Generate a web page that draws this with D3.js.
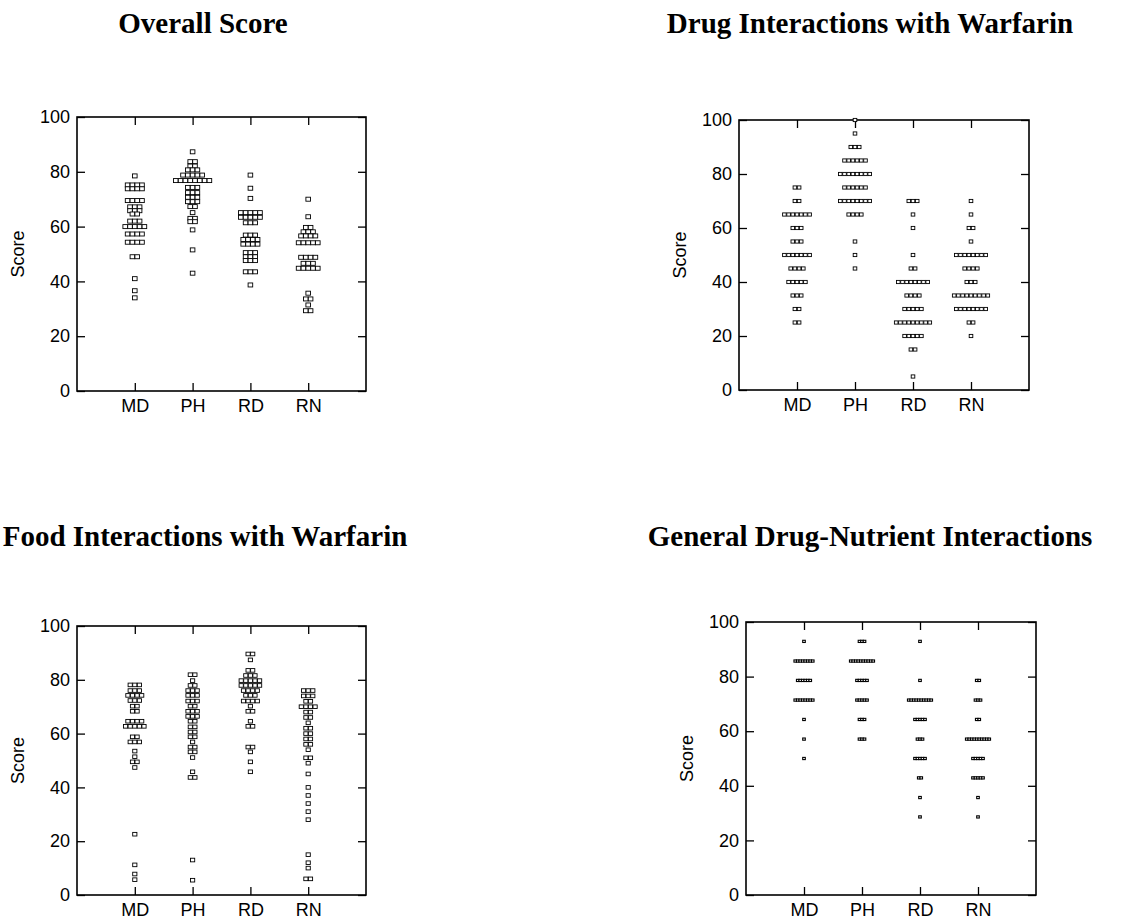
<!DOCTYPE html>
<html>
<head>
<meta charset="utf-8">
<script src="https://cdn.jsdelivr.net/npm/d3@7"></script>
<style>
body { margin: 0; background: #fff; }
svg { display: block; }
.axis text { font-family: "Liberation Sans", Arial, sans-serif; font-size: 18px; fill: #000; }
.axis line { stroke: #000; stroke-width: 1.3; }
.y-label { font-family: "Liberation Sans", Arial, sans-serif; font-size: 18px; }
.chart-title { font-family: "Liberation Serif", "Times New Roman", serif; font-weight: bold; font-size: 29px; }
</style>
</head>
<body>
<svg id="chart"></svg>
<script>
// groups on the x axis and y ticks shared by all four panels
const groups = ["MD", "PH", "RD", "RN"];
const yTicks = [0, 20, 40, 60, 80, 100];

// Overall Score
const overallMD = [78.5, 75.2, 75.2, 75.2, 75.2, 73.8, 73.8, 73.8, 73.8, 69.5, 69.5, 69.5, 69.5,
  67.2, 67.2, 67.2, 65.8, 65.8, 65.8, 64.6, 64.6, 62, 62, 62, 60, 60, 60, 60, 60,
  57.3, 57.3, 57.3, 57.3, 54.3, 54.3, 54.3, 54.3, 49, 49, 41, 36.6, 34];
const overallPH = [87.3, 83.7, 83.7, 82.1, 82.1, 80.7, 80.7, 80.7, 78.8, 78.8, 78.8, 78.8, 78.8,
  76.8, 76.8, 76.8, 76.8, 76.8, 76.8, 76.8, 76.8, 74.3, 74.3, 74.3, 72.4, 72.4, 72.4,
  70.7, 70.7, 70.7, 69.1, 69.1, 69.1, 67.3, 67.3, 65.1, 63, 63, 61.8, 61.8, 58.8, 51.5, 43];
const overallRD = [78.8, 74, 70.3, 65.1, 65.1, 65.1, 65.1, 65.1, 63.4, 63.4, 63.4, 63.4, 63.4,
  61.4, 61.4, 61.4, 56.9, 56.9, 56.9, 55.3, 55.3, 55.3, 55.3, 53.6, 53.6, 53.6, 53.6,
  50.5, 50.5, 50.5, 49, 49, 49, 47.6, 47.6, 47.6, 43.5, 43.5, 43.5, 38.7];
const overallRN = [70, 63.6, 59.7, 59.7, 58.1, 58.1, 58.1, 56.6, 56.6, 56.6, 56.6,
  54.1, 54.1, 54.1, 54.1, 54.1, 48.8, 48.8, 48.8, 48.8, 46.6, 46.6, 46.6,
  44.8, 44.8, 44.8, 44.8, 44.8, 35.7, 33.6, 33.6, 31.4, 29.3, 29.3];

// Drug Interactions with Warfarin
const drugMD = [75, 75, 70, 70, 65, 65, 65, 65, 65, 65, 65, 60, 60, 60, 55, 55, 55,
  50, 50, 50, 50, 50, 50, 50, 45, 45, 45, 45, 40, 40, 40, 40, 40, 35, 35, 35, 30, 30, 25, 25];
const drugPH = [100, 95, 90, 90, 90, 85, 85, 85, 85, 85, 85, 80, 80, 80, 80, 80, 80, 80, 80,
  75, 75, 75, 75, 75, 75, 70, 70, 70, 70, 70, 70, 70, 70, 65, 65, 65, 65, 55, 50, 45];
const drugRD = [70, 70, 70, 65, 60, 50, 45, 45, 40, 40, 40, 40, 40, 40, 40, 40, 35, 35, 35, 35,
  30, 30, 30, 30, 30, 25, 25, 25, 25, 25, 25, 25, 25, 25, 20, 20, 20, 20, 20, 15, 15, 5];
const drugRN = [70, 65, 60, 60, 55, 50, 50, 50, 50, 50, 50, 50, 50, 45, 45, 45, 45, 40, 40, 40,
  35, 35, 35, 35, 35, 35, 35, 35, 35, 30, 30, 30, 30, 30, 30, 30, 30, 25, 25, 20];

// Food Interactions with Warfarin
const foodMD = [78.1, 78.1, 78.1, 76, 76, 76, 74.2, 74.2, 74.2, 74.2, 72.3, 72.3, 72.3,
  70.2, 70.2, 68.3, 68.3, 64.6, 64.6, 64.6, 64.6, 62.7, 62.7, 62.7, 62.7, 62.7,
  58.8, 58.8, 56.9, 56.9, 56.9, 53.5, 51.4, 49.5, 49.5, 47.4, 22.6, 11.2, 7.8, 5.7];
const foodPH = [81.9, 81.9, 79.7, 77.9, 77.9, 76, 76, 76, 74.2, 74.2, 74.2, 72.1, 72.1, 72.1,
  70.2, 70.2, 68.3, 68.3, 68.3, 66.4, 66.4, 66.4, 64.6, 64.6, 62.5, 62.5, 60.6, 60.6,
  58.8, 58.8, 56.9, 55, 55, 53.2, 53.2, 51.1, 45.8, 43.7, 43.7, 13, 5.5];
const foodRD = [89.6, 89.6, 87.4, 83.5, 83.5, 81.6, 81.6, 81.6, 79.7, 79.7, 79.7, 79.7, 79.7,
  77.9, 77.9, 77.9, 77.9, 77.9, 76, 76, 76, 76, 74.2, 74.2, 74.2, 72.1, 72.1, 72.1, 72.1,
  70.2, 68.3, 68.3, 64.6, 62.7, 62.7, 55, 55, 53.2, 49.5, 45.8];
const foodRN = [76, 76, 76, 74, 74, 74, 72, 72, 70, 70, 70, 70, 68, 68, 66, 66, 64, 62, 62,
  60, 60, 58, 58, 56, 56, 54, 51, 51, 49, 45, 40, 37, 34, 31, 28, 15, 12, 10, 6, 6];

// General Drug-Nutrient Interactions
const generalMD = [92.9, 85.7, 85.7, 85.7, 85.7, 85.7, 85.7, 85.7, 85.7,
  78.6, 78.6, 78.6, 78.6, 78.6, 78.6, 71.4, 71.4, 71.4, 71.4, 71.4, 71.4, 71.4, 71.4, 64.3, 57.1, 50];
const generalPH = [92.9, 92.9, 92.9, 85.7, 85.7, 85.7, 85.7, 85.7, 85.7, 85.7, 85.7, 85.7, 85.7,
  78.6, 78.6, 78.6, 78.6, 78.6, 71.4, 71.4, 71.4, 71.4, 71.4, 64.3, 64.3, 64.3, 57.1, 57.1, 57.1];
const generalRD = [92.9, 78.6, 71.4, 71.4, 71.4, 71.4, 71.4, 71.4, 71.4, 71.4, 71.4, 71.4,
  64.3, 64.3, 64.3, 64.3, 64.3, 57.1, 57.1, 57.1, 50, 50, 50, 50, 50, 42.9, 42.9, 35.7, 28.6];
const generalRN = [78.6, 78.6, 71.4, 71.4, 71.4, 64.3, 64.3,
  57.1, 57.1, 57.1, 57.1, 57.1, 57.1, 57.1, 57.1, 57.1, 57.1,
  50, 50, 50, 50, 50, 42.9, 42.9, 42.9, 42.9, 42.9, 35.7, 28.6];

const panels = [
  {title: "Overall Score", titleX: 203, titleY: 33, left: 77, top: 117, width: 289, height: 274,
   boxW: 4.6, boxH: 4, step: 4.8, stroke: 0.9, data: [overallMD, overallPH, overallRD, overallRN]},
  {title: "Drug Interactions with Warfarin", titleX: 870, titleY: 33, left: 739, top: 120, width: 290, height: 270,
   boxW: 3.6, boxH: 3.2, step: 4.2, stroke: 0.9, data: [drugMD, drugPH, drugRD, drugRN]},
  {title: "Food Interactions with Warfarin", titleX: 205, titleY: 546, left: 77, top: 626, width: 289, height: 269,
   boxW: 4.2, boxH: 3.6, step: 4.6, stroke: 0.9, data: [foodMD, foodPH, foodRD, foodRN]},
  {title: "General Drug-Nutrient Interactions", titleX: 870, titleY: 546, left: 746, top: 622, width: 290, height: 273,
   boxW: 2.6, boxH: 2.2, step: 2.5, stroke: 1.1, data: [generalMD, generalPH, generalRD, generalRN]}
];

const svg = d3.select("#chart")
  .attr("width", 1140)
  .attr("height", 921);

panels.forEach(drawPanel);

function drawPanel(cfg) {
  const g = svg.append("g")
    .attr("transform", `translate(${cfg.left},${cfg.top})`);

  const x = d3.scalePoint().domain(groups).range([0, cfg.width]).padding(1);
  const y = d3.scaleLinear().domain([0, 100]).range([cfg.height, 0]);

  const noDomain = sel => sel.select(".domain").remove();

  // ticks point inward on all four sides, labels only left and bottom
  g.append("g").attr("class", "axis")
    .call(d3.axisLeft(y).tickValues(yTicks).tickSize(-8).tickPadding(7))
    .call(noDomain);
  g.append("g").attr("class", "axis")
    .attr("transform", `translate(${cfg.width},0)`)
    .call(d3.axisRight(y).tickValues(yTicks).tickSize(-8).tickFormat(""))
    .call(noDomain);
  g.append("g").attr("class", "axis")
    .attr("transform", `translate(0,${cfg.height})`)
    .call(d3.axisBottom(x).tickSize(-8).tickPadding(8))
    .call(noDomain);
  g.append("g").attr("class", "axis")
    .call(d3.axisTop(x).tickSize(-8).tickFormat(""))
    .call(noDomain);

  g.append("rect")
    .attr("width", cfg.width)
    .attr("height", cfg.height)
    .attr("fill", "none")
    .attr("stroke", "#000")
    .attr("stroke-width", 1.6);

  g.append("text")
    .attr("class", "y-label")
    .attr("transform", `translate(${-59},${cfg.height / 2}) rotate(-90)`)
    .attr("text-anchor", "middle")
    .attr("dy", "0.35em")
    .text("Score");

  svg.append("text")
    .attr("class", "chart-title")
    .attr("x", cfg.titleX)
    .attr("y", cfg.titleY)
    .attr("text-anchor", "middle")
    .text(cfg.title);

  // equal scores sit side by side, centred on the group
  cfg.data.forEach((values, gi) => {
    const rows = d3.groups(values, v => v);
    const boxes = [];
    rows.forEach(([v, list]) => {
      list.forEach((d, i) => boxes.push({group: groups[gi], value: v, offset: (i - (list.length - 1) / 2) * cfg.step}));
    });
    g.append("g").selectAll("rect")
      .data(boxes)
      .join("rect")
      .attr("x", d => x(d.group) + d.offset - cfg.boxW / 2)
      .attr("y", d => y(d.value) - cfg.boxH / 2)
      .attr("width", cfg.boxW)
      .attr("height", cfg.boxH)
      .attr("fill", "#fff")
      .attr("stroke", "#000")
      .attr("stroke-width", cfg.stroke);
  });
}
</script>
</body>
</html>
